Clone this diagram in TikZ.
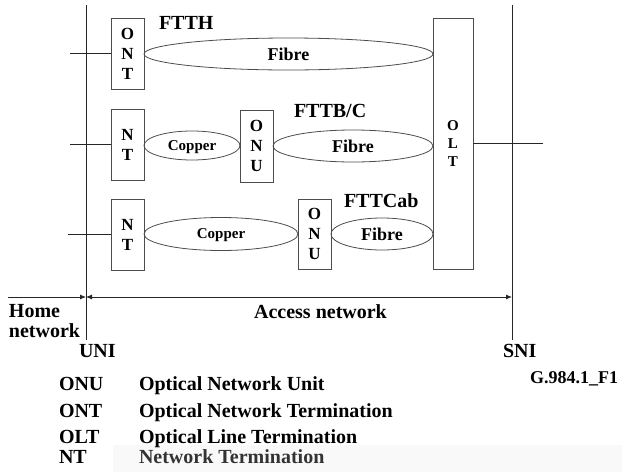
\documentclass[tikz,border=0pt]{standalone}
\usepackage{fontspec}
\setmainfont{Liberation Serif}
\usetikzlibrary{arrows.meta,shapes.geometric}
\begin{document}
\begin{tikzpicture}[x=1pt,y=-1pt,
  every node/.style={font=\bfseries, inner sep=0pt, outer sep=0pt},
  ln/.style={line width=0.8pt, draw=black!85},
  box/.style={draw=black!70, line width=0.8pt, rectangle, minimum width=33pt, align=center, font=\bfseries\fontsize{17}{20}\selectfont},
  medium/.style={draw=black!70, line width=0.8pt, ellipse, inner sep=0pt, text depth=0pt},
  fib/.style={medium, font=\bfseries\fontsize{18}{20}\selectfont},
  cop/.style={medium, font=\bfseries\fontsize{15}{18}\selectfont},
  title/.style={font=\bfseries\fontsize{20}{24}\selectfont, anchor=base west},
  lbl/.style={font=\bfseries\fontsize{20}{24}\selectfont, anchor=base west},
  tip/.style={line width=0.8pt, draw=black!85}
]
\useasboundingbox (0,0) rectangle (622,472);
\fill[black!2.5] (113,445) rectangle (622,472);

% reference lines
\coordinate (uniTop) at (86,5);
\coordinate (uniBot) at (86,340);
\coordinate (sniTop) at (512,5);
\coordinate (sniBot) at (512,340);
\draw[ln] (uniTop) -- (uniBot);
\draw[ln] (sniTop) -- (sniBot);

% boxes
\node[box, minimum height=71pt] (ont) at (127.5,53.5) {O\\N\\T};
\node[box, minimum height=71pt] (nt2) at (127.5,144.5) {N\\T};
\node[box, minimum height=72pt] (onu2) at (256.5,146) {O\\N\\U};
\node[box, minimum height=71pt] (nt3) at (127.5,234.5) {N\\T};
\node[box, minimum height=70pt] (onu3) at (314.5,234) {O\\N\\U};
\node[box, minimum width=40pt, minimum height=251pt, font=\bfseries\fontsize{15}{18}\selectfont] (olt) at (453,143.5) {O\\L\\T};

% media
\node[fib, minimum width=289pt, minimum height=32pt] (fibre1) at (288.5,54) {Fibre};
\node[cop, minimum width=96pt, minimum height=29pt] (copper2) at (192,145.5) {Copper};
\node[fib, minimum width=160pt, minimum height=32pt] (fibre2) at (353,146) {Fibre};
\node[cop, minimum width=154pt, minimum height=33pt] (copper3) at (221,234) {Copper};
\node[fib, minimum width=102pt, minimum height=32pt] (fibre3) at (382,234) {Fibre};

% titles
\node[title] (ftth) at (159,29) {FTTH};
\node[title] (fttb) at (294,117) {FTTB/C};
\node[title] (fttcab) at (344,207) {FTTCab};

% interface lines
\coordinate (in1) at (70,53.5);
\coordinate (in2) at (70,144.5);
\coordinate (in3) at (68,234.5);
\coordinate (out) at (543,143.5);
\draw[ln] (in1) -- (ont.west);
\draw[ln] (in2) -- (nt2.west);
\draw[ln] (in3) -- (nt3.west);
\draw[ln] (olt.east) -- (out);

% dimension arrows
\coordinate (hl) at (8,297);
\coordinate (uniM) at (86,297);
\coordinate (sniM) at (512,297);
\draw[tip, -{Latex[length=6pt,width=5pt]}] (hl) -- (uniM);
\draw[tip, {Latex[length=6pt,width=5pt]}-{Latex[length=6pt,width=5pt]}] (uniM) -- (sniM);

% labels
\node[lbl, anchor=base] (access) at (320.5,318) {Access network};
\node[lbl] (home) at (9,317) {Home};
\node[lbl] (homenet) at (9,337) {network};
\node[lbl] (uni) at (79,357) {UNI};
\node[lbl] (sni) at (503,357) {SNI};
\node[lbl, font=\bfseries\fontsize{18}{22}\selectfont] (fig) at (530,383) {G.984.1\_F1};

% legend
\node[lbl] (kONU) at (59,390) {ONU};
\node[lbl] (dONU) at (139,390) {Optical Network Unit};
\node[lbl] (kONT) at (59,417) {ONT};
\node[lbl] (dONT) at (139,417) {Optical Network Termination};
\node[lbl] (kOLT) at (59,443) {OLT};
\node[lbl] (dOLT) at (139,443) {Optical Line Termination};
\node[lbl] (kNT) at (59,463) {NT};
\node[lbl, text=black!80] (dNT) at (139,463) {Network Termination};
\end{tikzpicture}
\end{document}
